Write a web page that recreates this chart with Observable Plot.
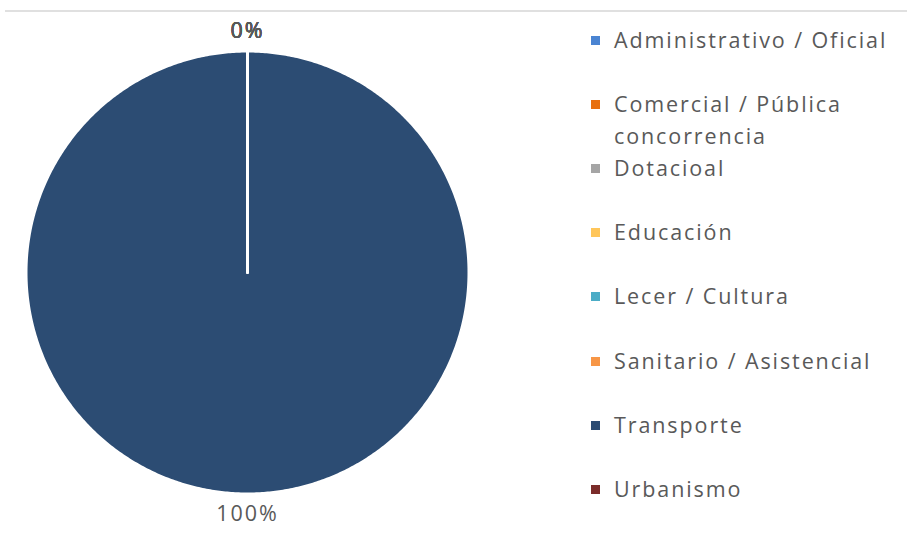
<!DOCTYPE html>
<html>
<head>
<meta charset="utf-8">
<script src="https://cdn.jsdelivr.net/npm/d3@7"></script>
<script src="https://cdn.jsdelivr.net/npm/@observablehq/plot@0.6"></script>
<style>
  html, body { margin: 0; padding: 0; background: #fff; }
  #wrap { position: relative; width: 907px; height: 535px; font-family: "Open Sans", sans-serif; }
  #topline { position: absolute; left: 5px; right: 0; top: 10px; height: 0; border-top: 2px solid #e0e0e0; }
  #legend { position: absolute; left: 591px; top: 0; width: 316px; }
  .item { position: absolute; left: 0; display: flex; align-items: flex-start; }
  .sw { width: 9px; height: 9px; margin-top: 12px; margin-right: 14px; flex: none; }
  .lab { font-size: 21.5px; line-height: 32px; color: #595959; width: 290px; letter-spacing: 1.9px; }
</style>
</head>
<body>
<div id="wrap">
  <div id="topline"></div>
  <div id="chart"></div>
  <div id="legend"></div>
</div>
<script>
const categories = ["Administrativo / Oficial", "Comercial / Pública concorrencia", "Dotacioal", "Educación", "Lecer / Cultura", "Sanitario / Asistencial", "Transporte", "Urbanismo"];
const values = [0, 0, 0, 0, 0, 0, 100, 0];
const colors = ["#4a84d2", "#e8700f", "#a5a5a5", "#ffc65a", "#4bacc6", "#f79646", "#2c4c73", "#7b2c2a"];

const total = d3.sum(values);
const arcs = d3.pie().sort(null).value(d => d)(values);

const slicePts = [];
const labels = [];
arcs.forEach((a, i) => {
  const cat = categories[i];
  slicePts.push({cat, x: 0, y: 0});
  const n = Math.max(1, Math.ceil((a.endAngle - a.startAngle) / (Math.PI / 360)));
  for (let k = 0; k <= n; k++) {
    const t = a.startAngle + (a.endAngle - a.startAngle) * k / n;
    slicePts.push({cat, x: Math.sin(t), y: -Math.cos(t)});
  }
  slicePts.push({cat, x: 0, y: 0});
  const m = (a.startAngle + a.endAngle) / 2;
  const r = 1.09;
  labels.push({cat, x: r * Math.sin(m), y: -r * Math.cos(m), text: Math.round(values[i] / total * 100) + "%"});
});

const chart = Plot.plot({
  width: 907,
  height: 535,
  margin: 0,
  x: {domain: [-1, 1], range: [25.5, 468.5], axis: null},
  y: {domain: [-1, 1], range: [50.5, 493.5], axis: null},
  color: {domain: categories, range: colors},
  style: {fontFamily: "Open Sans, sans-serif", background: "transparent", letterSpacing: "2px"},
  marks: [
    Plot.line(slicePts, {x: "x", y: "y", z: "cat", fill: "cat", stroke: "white", strokeWidth: 3, strokeLinejoin: "round"}),
    Plot.text(labels, {x: "x", y: "y", text: "text", fill: "#595959", fontSize: 21.5})
  ]
});
document.getElementById("chart").appendChild(chart);

const legend = document.getElementById("legend");
const rowStep = 64.1;
categories.forEach((c, i) => {
  const item = document.createElement("div");
  item.className = "item";
  item.style.top = (40 - 16 + i * rowStep) + "px";
  const sw = document.createElement("div");
  sw.className = "sw";
  sw.style.background = colors[i];
  const lab = document.createElement("div");
  lab.className = "lab";
  lab.textContent = c;
  item.appendChild(sw);
  item.appendChild(lab);
  legend.appendChild(item);
});
</script>
</body>
</html>
